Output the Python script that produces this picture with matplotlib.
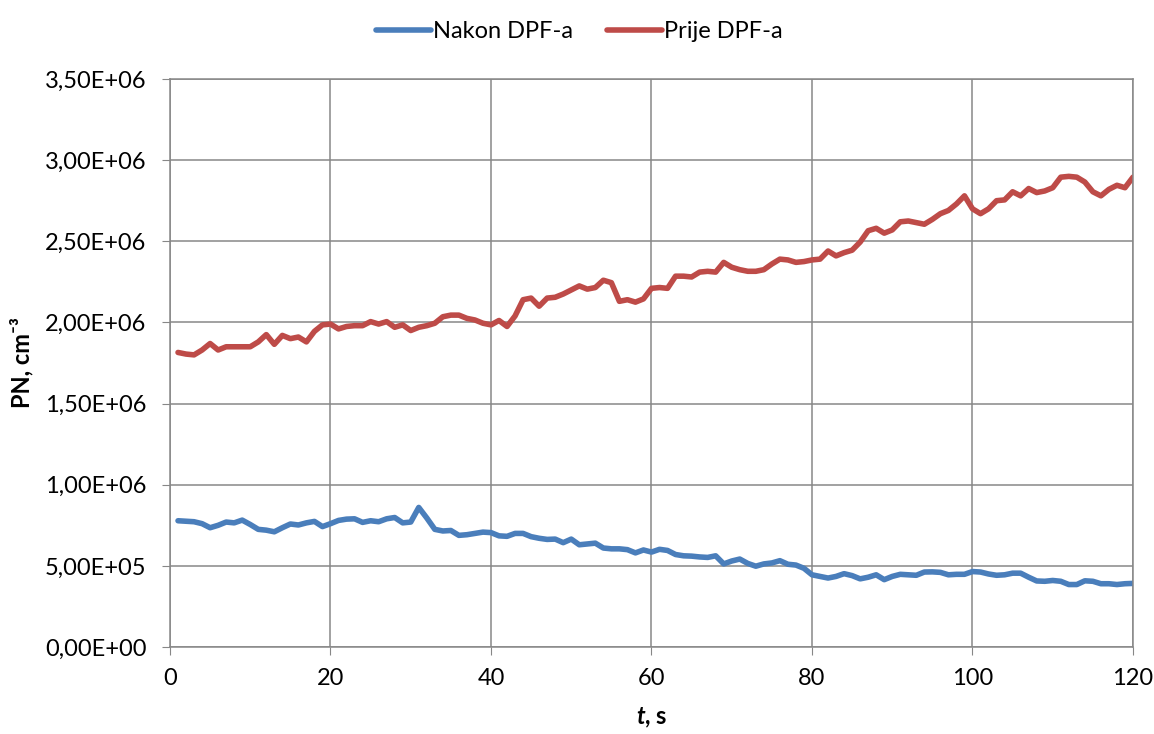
import numpy as np
import matplotlib.pyplot as plt

# time in seconds
t = list(range(1, 121))

# PN before the DPF (x 1e6)
prije = [1.815, 1.805, 1.80, 1.83, 1.87, 1.83, 1.85, 1.85, 1.85, 1.85,
         1.88, 1.925, 1.865, 1.92, 1.90, 1.91, 1.88, 1.945, 1.985, 1.99,
         1.96, 1.975, 1.98, 1.98, 2.005, 1.99, 2.005, 1.97, 1.985, 1.95,
         1.97, 1.98, 1.995, 2.035, 2.045, 2.045, 2.025, 2.015, 1.995, 1.985,
         2.012, 1.975, 2.04, 2.14, 2.15, 2.10, 2.15, 2.155, 2.175, 2.20,
         2.225, 2.205, 2.215, 2.26, 2.245, 2.13, 2.14, 2.125, 2.145, 2.21,
         2.215, 2.21, 2.285, 2.285, 2.28, 2.31, 2.315, 2.31, 2.37, 2.34,
         2.325, 2.315, 2.315, 2.325, 2.36, 2.39, 2.385, 2.37, 2.375, 2.385,
         2.39, 2.44, 2.41, 2.43, 2.445, 2.495, 2.565, 2.58, 2.55, 2.57,
         2.62, 2.625, 2.615, 2.605, 2.635, 2.67, 2.69, 2.73, 2.78, 2.70,
         2.67, 2.70, 2.75, 2.755, 2.805, 2.78, 2.825, 2.80, 2.81, 2.83,
         2.895, 2.90, 2.895, 2.865, 2.805, 2.78, 2.82, 2.845, 2.83, 2.895]

# PN after the DPF (x 1e5)
nakon = [7.78, 7.75, 7.72, 7.60, 7.35, 7.50, 7.70, 7.65, 7.82, 7.55,
         7.25, 7.20, 7.10, 7.35, 7.58, 7.52, 7.65, 7.74, 7.42, 7.60,
         7.80, 7.88, 7.90, 7.68, 7.78, 7.72, 7.90, 7.98, 7.65, 7.70,
         8.60, 7.95, 7.25, 7.15, 7.18, 6.88, 6.92, 7.00, 7.08, 7.05,
         6.85, 6.82, 7.00, 7.00, 6.80, 6.70, 6.63, 6.65, 6.43, 6.65,
         6.30, 6.35, 6.40, 6.10, 6.05, 6.05, 6.00, 5.80, 5.98, 5.85,
         6.02, 5.95, 5.70, 5.62, 5.60, 5.55, 5.52, 5.62, 5.12, 5.30,
         5.42, 5.15, 4.98, 5.12, 5.18, 5.32, 5.10, 5.05, 4.85, 4.45,
         4.35, 4.25, 4.35, 4.52, 4.40, 4.20, 4.30, 4.45, 4.15, 4.35,
         4.48, 4.45, 4.42, 4.62, 4.63, 4.60, 4.45, 4.48, 4.48, 4.65,
         4.62, 4.50, 4.42, 4.45, 4.55, 4.55, 4.30, 4.07, 4.05, 4.10,
         4.05, 3.85, 3.85, 4.08, 4.05, 3.90, 3.90, 3.85, 3.90, 3.92]

x_ticks = [0, 20, 40, 60, 80, 100, 120]
y_ticks = [0, 5e5, 1e6, 1.5e6, 2e6, 2.5e6, 3e6, 3.5e6]

plt.rcParams['font.family'] = ['Lato', 'DejaVu Sans']
plt.rcParams['mathtext.fontset'] = 'custom'
plt.rcParams['mathtext.it'] = 'Lato:bold:italic'
plt.rcParams['mathtext.rm'] = 'Lato:bold'

fig = plt.figure(figsize=(11.54, 7.34), dpi=100)
ax = fig.add_axes([0.1473, 0.1185, 0.8345, 0.7739])

ax.plot(t, np.array(nakon) * 1e5, color='#4A7EBB', lw=4.0,
        solid_joinstyle='round', solid_capstyle='round', label='Nakon DPF-a')
ax.plot(t, np.array(prije) * 1e6, color='#BE4B48', lw=4.0,
        solid_joinstyle='round', solid_capstyle='round', label='Prije DPF-a')

# axes / grid
ax.set_xlim(0, 120)
ax.set_ylim(0, 3.5e6)
ax.set_xticks(x_ticks)
ax.set_yticks(y_ticks)
ax.set_yticklabels([f"{v:.2E}".replace('.', ',') for v in y_ticks])
ax.grid(True, color='#878787', lw=1.1)
ax.set_axisbelow(True)
for s in ax.spines.values():
    s.set_color('#878787')
    s.set_linewidth(1.1)
ax.tick_params(axis='both', direction='out', length=6, color='#878787',
               labelsize=17)
ax.tick_params(axis='y', pad=11)
ax.tick_params(axis='x', pad=9)

ax.set_xlabel('$t$, s', fontsize=17, fontweight='bold', labelpad=12)
ax.set_ylabel('PN, cm⁻³', fontsize=17, fontweight='bold', labelpad=8)

fig.legend(loc='upper center', bbox_to_anchor=(0.502, 1.0), ncol=2,
           frameon=False, fontsize=17, handlelength=2.35, handletextpad=0.1,
           columnspacing=1.4)

fig.savefig('out.png', dpi=100)
